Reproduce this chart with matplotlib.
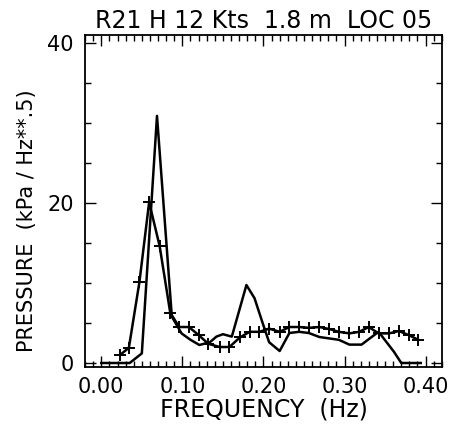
import matplotlib
matplotlib.use("Agg")
import matplotlib.pyplot as plt
from matplotlib.ticker import MultipleLocator

plt.rcParams['font.family'] = ['DejaVu Sans']

title = "R21 H 12 Kts  1.8 m  LOC 05"
xlabel = "FREQUENCY  (Hz)"
ylabel = "PRESSURE  (kPa / Hz**.5)"

# Series with '+' markers
plus_f = [0.023, 0.034, 0.047, 0.059, 0.072, 0.085, 0.096, 0.108, 0.120, 0.132,
          0.146, 0.158, 0.171, 0.183, 0.195, 0.207, 0.220, 0.232, 0.244, 0.256,
          0.269, 0.281, 0.293, 0.306, 0.318, 0.330, 0.342, 0.355, 0.367, 0.379, 0.391]
plus_p = [1.0, 1.9, 10.1, 20.1, 14.6, 6.3, 4.5, 4.5, 3.5, 2.4,
          2.0, 2.0, 3.2, 3.9, 3.9, 4.3, 3.9, 4.5, 4.5, 4.4,
          4.5, 4.25, 3.9, 3.7, 3.9, 4.5, 3.7, 3.7, 4.0, 3.5, 2.9]

# Solid series without markers
line_f = [0.0, 0.035, 0.050, 0.0687, 0.087, 0.099, 0.110, 0.121, 0.134, 0.142,
          0.150, 0.161, 0.179, 0.189, 0.199, 0.207, 0.220, 0.232, 0.244, 0.256,
          0.269, 0.293, 0.306, 0.321, 0.342, 0.361, 0.370, 0.394]
line_p = [0.0, 0.0, 1.2, 30.9, 5.8, 3.7, 2.9, 2.25, 2.6, 3.3,
          3.6, 3.3, 9.75, 8.1, 5.0, 2.6, 1.5, 3.75, 3.9, 3.75,
          3.25, 2.9, 2.3, 2.3, 3.9, 1.4, 0.0, 0.0]

xticks = [0.0, 0.1, 0.2, 0.3, 0.4]
xticklabels = ["0.00", "0.10", "0.20", "0.30", "0.40"]
yticks = [0, 20, 40]

fig = plt.figure(figsize=(4.55, 4.30), dpi=100)
ax = fig.add_axes([0.187, 0.1465, 0.784, 0.772])

ax.plot(line_f, line_p, color='black', lw=1.8, clip_on=False)
ax.plot(plus_f, plus_p, color='black', lw=1.8, marker='+', ms=8, mew=1.4)

ax.set_xlim(-0.02, 0.42)
ax.set_ylim(-0.5, 41)
ax.set_xticks(xticks)
ax.set_xticklabels(xticklabels)
ax.set_yticks(yticks)
ax.xaxis.set_minor_locator(MultipleLocator(0.01))
ax.yaxis.set_minor_locator(MultipleLocator(5))
ax.tick_params(which='both', direction='in', top=True, right=True, labelsize=15, width=1)
ax.tick_params(which='major', length=8)
ax.tick_params(which='minor', length=4)
ax.tick_params(axis='x', which='major', pad=7.5)
ax.tick_params(axis='y', which='major', pad=8)
for s in ax.spines.values():
    s.set_linewidth(1.3)

ax.set_title(title, fontsize=17, pad=5)
ax.set_xlabel(xlabel, fontsize=17)
ax.xaxis.set_label_coords(0.5, -0.093)
ax.set_ylabel(ylabel, fontsize=15)
ax.yaxis.set_label_coords(-0.135, 0.44)

fig.savefig("out.png", dpi=100)
